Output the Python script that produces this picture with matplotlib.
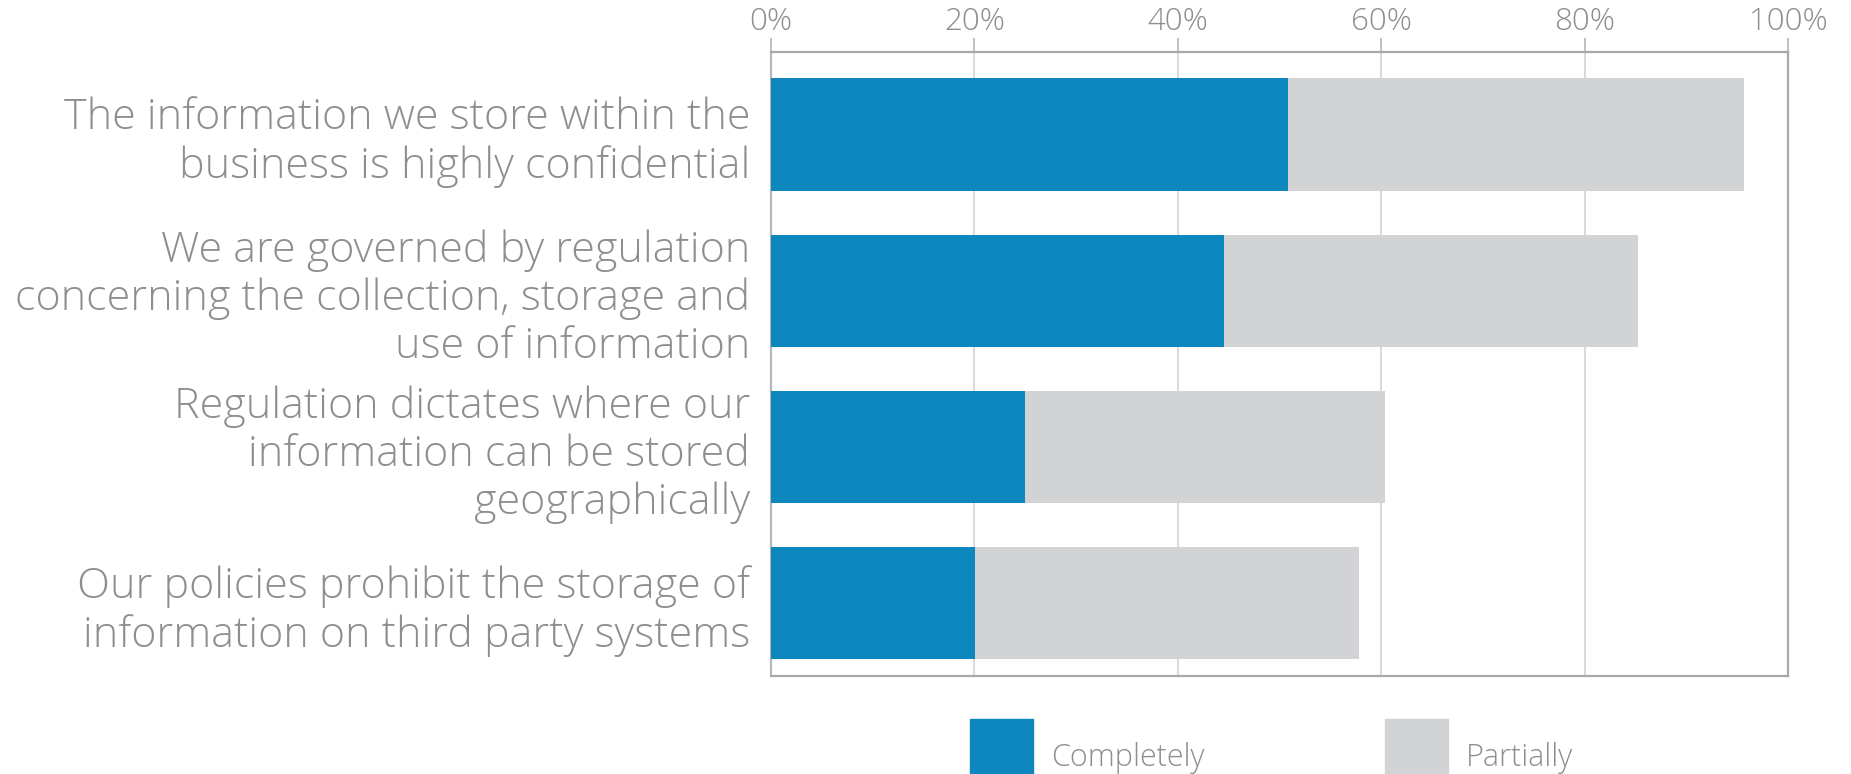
import matplotlib
matplotlib.use("Agg")
import matplotlib.pyplot as plt
from matplotlib.patches import Patch
from matplotlib.ticker import FixedLocator, FuncFormatter

categories = [
    "The information we store within the\nbusiness is highly confidential",
    "We are governed by regulation\nconcerning the collection, storage and\nuse of information",
    "Regulation dictates where our\ninformation can be stored\ngeographically",
    "Our policies prohibit the storage of\ninformation on third party systems",
]
completely = [50.8, 44.5, 25.0, 20.1]
partially = [44.9, 40.7, 35.4, 37.7]
series_names = ["Completely", "Partially"]
x_ticks = [0, 20, 40, 60, 80, 100]

BLUE = "#0E86BE"
GREY = "#D1D3D4"
TXT = "#8E8E8E"

plt.rcParams["font.family"] = ["Open Sans", "DejaVu Sans"]

fig = plt.figure(figsize=(18.51, 7.74), dpi=100)
ax = fig.add_axes([0.4165, 0.1266, 0.5495, 0.8062])

y = list(range(len(categories)))
ax.barh(y, completely, height=0.72, color=BLUE, zorder=3)
ax.barh(y, partially, left=completely, height=0.72, color=GREY, zorder=3)

ax.set_xlim(0, 100)
ax.set_ylim(3 + 0.468, -0.529)
ax.xaxis.set_major_locator(FixedLocator(x_ticks))
ax.xaxis.set_major_formatter(FuncFormatter(lambda v, p: f"{v:.0f}%"))
ax.xaxis.tick_top()
ax.tick_params(axis="x", colors="#B5B5B5", labelcolor=TXT, labelsize=22.5,
               length=10, width=1.2, pad=0)
for lbl in ax.get_xticklabels():
    lbl.set_fontweight("light")
ax.grid(axis="x", color="#D3D3D3", linewidth=1.2, zorder=0)

ax.set_yticks(y)
ax.set_yticklabels(categories, fontsize=31, color=TXT, fontweight="light",
                   linespacing=1.18)
ax.tick_params(axis="y", length=0, pad=15)

for side in ["top", "right", "bottom", "left"]:
    ax.spines[side].set_color("#A8A8A8")
    ax.spines[side].set_linewidth(1.6)
ax.spines["left"].set_color("#B8B8B8")

handles = [Patch(color=BLUE, label=series_names[0]),
           Patch(color=GREY, label=series_names[1])]
leg = fig.legend(handles=handles, loc="center left", ncol=2,
                 bbox_to_anchor=(0.524, 0.022), frameon=False,
                 prop={"size": 22, "weight": "light"},
                 handlelength=2.06, handleheight=3.45, handletextpad=0.6,
                 columnspacing=5.9, borderaxespad=0, borderpad=0)
for t in leg.get_texts():
    t.set_color(TXT)

fig.savefig("out.png", dpi=100)
